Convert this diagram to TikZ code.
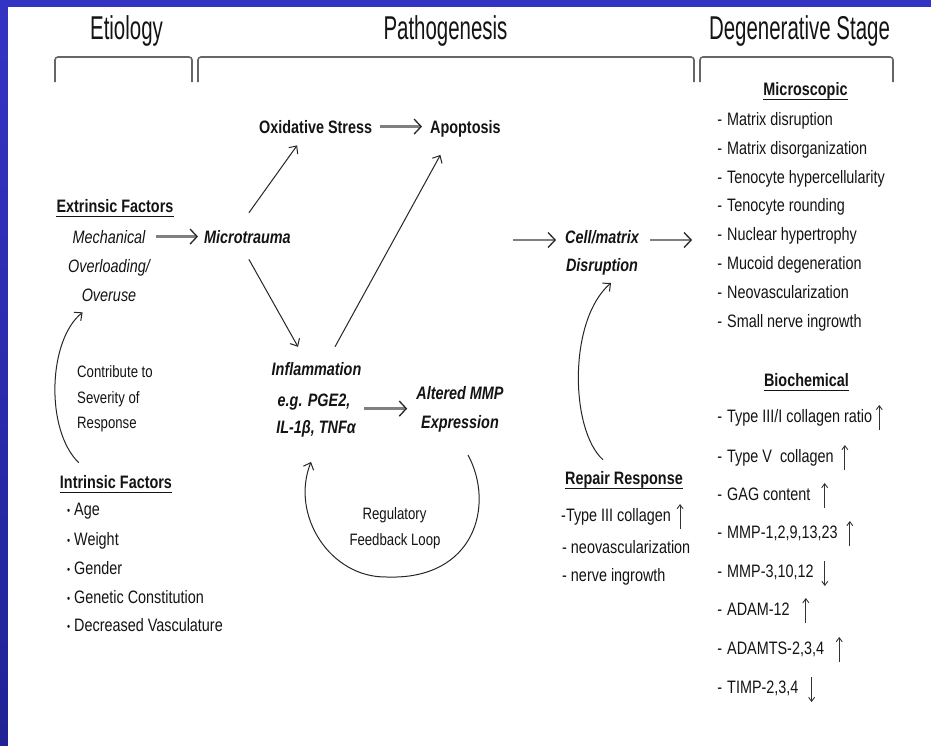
\documentclass[tikz,border=0pt]{standalone}
\usepackage{fontspec}
\setmainfont[FakeStretch=0.8]{Liberation Sans}
\newfontfamily\titlefont[FakeStretch=0.62]{Liberation Sans}
\usetikzlibrary{arrows.meta,calc}
\definecolor{bluetop}{RGB}{52,52,196}
\definecolor{bluebot}{RGB}{34,34,150}
\definecolor{ink}{RGB}{20,20,20}
\tikzset{
  txt/.style={inner sep=0pt, text=ink, font=\fontsize{18}{22}\selectfont},
  bf/.style={txt, font=\fontsize{18}{22}\selectfont\bfseries},
  bi/.style={txt, font=\fontsize{18}{22}\selectfont\bfseries\itshape},
  it/.style={txt, font=\fontsize{18}{22}\selectfont\itshape},
  note/.style={txt, font=\fontsize{16.5}{20}\selectfont},
  ttl/.style={inner sep=0pt, text=ink, font=\titlefont\fontsize{33}{36}\selectfont},
  brk/.style={draw=black!60, line width=1.6pt, rounded corners=3pt},
  ulin/.style={draw=ink, line width=1.8pt},
  fat/.style={draw=black!50, line width=2.6pt,
    -{Straight Barb[length=7pt,width=15pt,line width=1.3pt,color=black!85]}},
  thinar/.style={draw=black!85, line width=1pt,
    -{Straight Barb[length=6pt,width=11pt,line width=1pt]}},
  valarr/.style={draw=black!80, line width=0.9pt,
    -{Straight Barb[length=4pt,width=6pt,line width=0.9pt]}},
}
\newcommand{\dsh}{\llap{-\hspace{5pt}}}
\newcommand{\bul}{\llap{\raisebox{1pt}{\fontsize{11}{11}\selectfont\textbullet}\hspace{4pt}}}
\newcommand{\upar}[2]{\draw[valarr] ($(#1.base east)+(#2,8)$) -- ++(0,-25);}
\newcommand{\dnar}[2]{\draw[valarr] ($(#1.base east)+(#2,-16)$) -- ++(0,25);}
\newcommand{\ulnode}[1]{\draw[ulin] ([yshift=-4.5pt]#1.base west) -- ([yshift=-4.5pt]#1.base east);}
\begin{document}
\begin{tikzpicture}[x=1pt,y=-1pt]
\useasboundingbox (0,0) rectangle (931,745);
\shade[top color=bluetop, bottom color=bluebot] (0,0) rectangle (931,745);
\fill[white] (8,7) rectangle (945,760);

% titles
\node[ttl, anchor=base] (t1) at (126.5,39) {Etiology};
\node[ttl, anchor=base] (t2) at (445.5,39) {Pathogenesis};
\node[ttl, anchor=base] (t3) at (799.5,39) {Degenerative Stage};

% brackets
\draw[brk] (55,82) -- (55,57) -- (192,57) -- (192,82);
\draw[brk] (198,82) -- (198,57) -- (694,57) -- (694,82);
\draw[brk] (700,82) -- (700,57) -- (893,57) -- (893,82);

% left column
\node[bf, anchor=base] (extr) at (115,212) {Extrinsic Factors};
\ulnode{extr}
\node[it, anchor=base] (mech1) at (109,243) {Mechanical};
\node[it, anchor=base] (mech2) at (109,272) {Overloading/};
\node[it, anchor=base] (mech3) at (109,301) {Overuse};
\node[note, anchor=base west] (con1) at (77,377) {Contribute to};
\node[note, anchor=base west] (con2) at (77,403) {Severity of};
\node[note, anchor=base west] (con3) at (77,428) {Response};
\node[bf, anchor=base] (intr) at (116,488) {Intrinsic Factors};
\ulnode{intr}
\node[txt, anchor=base west] (ia1) at (74,515) {\bul Age};
\node[txt, anchor=base west] (ia2) at (74,545) {\bul Weight};
\node[txt, anchor=base west] (ia3) at (74,574) {\bul Gender};
\node[txt, anchor=base west] (ia4) at (74,603) {\bul Genetic Constitution};
\node[txt, anchor=base west] (ia5) at (74,631) {\bul Decreased Vasculature};

% middle
\node[bi, anchor=base west] (micro) at (204,243) {Microtrauma};
\node[bf, anchor=base west] (oxid) at (259,133) {Oxidative Stress};
\node[bf, anchor=base west] (apop) at (430,133) {Apoptosis};
\node[bi, anchor=base] (infl1) at (316.5,375) {Inflammation};
\node[bi, anchor=base] (infl2) at (314,406) {e.g. PGE2,};
\node[bi, anchor=base] (infl3) at (316,433) {IL-1β, TNFα};
\node[bi, anchor=base] (alt1) at (460,399) {Altered MMP};
\node[bi, anchor=base] (alt2) at (460,428) {Expression};
\node[note, anchor=base] (reg1) at (394.5,519) {Regulatory};
\node[note, anchor=base] (reg2) at (395,545) {Feedback Loop};
\node[bi, anchor=base] (cell1) at (602,243) {Cell/matrix};
\node[bi, anchor=base] (cell2) at (602,271) {Disruption};
\node[bf, anchor=base] (repair) at (624,484) {Repair Response};
\ulnode{repair}
\node[txt, anchor=base west] (r1) at (561,521) {-Type III collagen};
\node[txt, anchor=base west] (r2) at (562,553) {- neovascularization};
\node[txt, anchor=base west] (r3) at (562,581) {- nerve ingrowth};
\upar{r1}{9}

% right column
\node[bf, anchor=base] (micH) at (805.5,95) {Microscopic};
\ulnode{micH}
\node[txt, anchor=base west] (m1) at (727,125) {\dsh Matrix disruption};
\node[txt, anchor=base west] (m2) at (727,154) {\dsh Matrix disorganization};
\node[txt, anchor=base west] (m3) at (727,183) {\dsh Tenocyte hypercellularity};
\node[txt, anchor=base west] (m4) at (727,211) {\dsh Tenocyte rounding};
\node[txt, anchor=base west] (m5) at (727,240) {\dsh Nuclear hypertrophy};
\node[txt, anchor=base west] (m6) at (727,269) {\dsh Mucoid degeneration};
\node[txt, anchor=base west] (m7) at (727,298) {\dsh Neovascularization};
\node[txt, anchor=base west] (m8) at (727,327) {\dsh Small nerve ingrowth};

\node[bf, anchor=base] (bioH) at (806.5,386) {Biochemical};
\ulnode{bioH}
\node[txt, anchor=base west] (b1) at (727,422) {\dsh Type III/I collagen ratio};
\node[txt, anchor=base west] (b2) at (727,462) {\dsh Type V~~collagen};
\node[txt, anchor=base west] (b3) at (727,500) {\dsh GAG content};
\node[txt, anchor=base west] (b4) at (727,538) {\dsh MMP-1,2,9,13,23};
\node[txt, anchor=base west] (b5) at (727,577) {\dsh MMP-3,10,12};
\node[txt, anchor=base west] (b6) at (727,615) {\dsh ADAM-12};
\node[txt, anchor=base west] (b7) at (727,654) {\dsh ADAMTS-2,3,4};
\node[txt, anchor=base west] (b8) at (727,693) {\dsh TIMP-2,3,4};
\upar{b1}{7}
\upar{b2}{11}
\upar{b3}{14}
\upar{b4}{12}
\dnar{b5}{11}
\upar{b6}{16}
\upar{b7}{15}
\dnar{b8}{13}

% connectors
\draw[fat, shorten <=10pt, shorten >=6pt] (mech1.east) -- (mech1.east -| micro.west);
\draw[fat, shorten <=8pt, shorten >=8pt] (oxid.east) -- (oxid.east -| apop.west);
\coordinate (ia) at ($(infl2.east)+(0,7)$);
\draw[fat, shorten <=14pt, shorten >=9pt] (ia) -- (ia -| alt1.west);
\coordinate (ps) at (513,240);
\draw[fat, shorten >=9pt] (ps) -- (ps -| cell1.west);
\coordinate (de) at (692,240);
\draw[fat, shorten <=11pt] (cell1.east |- de) -- (de);

\draw[thinar] ($(micro.north)+(1.5,-17)$) -- ($(oxid.south)+(-18.5,12)$);
\draw[thinar] ($(micro.south)+(1.5,16)$) -- ($(infl1.north)+(-18.5,-15)$);
\draw[thinar] ($(infl1.north)+(18.5,-15)$) -- ($(apop.south)+(-25,18)$);

\draw[thinar] ($(intr.north west)+(19,-12)$) .. controls (45,430) and (48,340) .. ($(mech3.south west)+(1,11)$);
\draw[thinar] ($(repair.north)+(-21,-11)$) .. controls (570,430) and (568,320) .. ($(cell2.south)+(9,8)$);
\coordinate (fb1) at ($(alt2.south)+(8,23)$);
\coordinate (fb2) at (387,577);
\draw[thinar] (fb1) .. controls (495,505) and (475,580) .. (fb2)
  .. controls (330,578) and (290,515) .. ($(infl3.south)+(-5,25)$);
\end{tikzpicture}
\end{document}
